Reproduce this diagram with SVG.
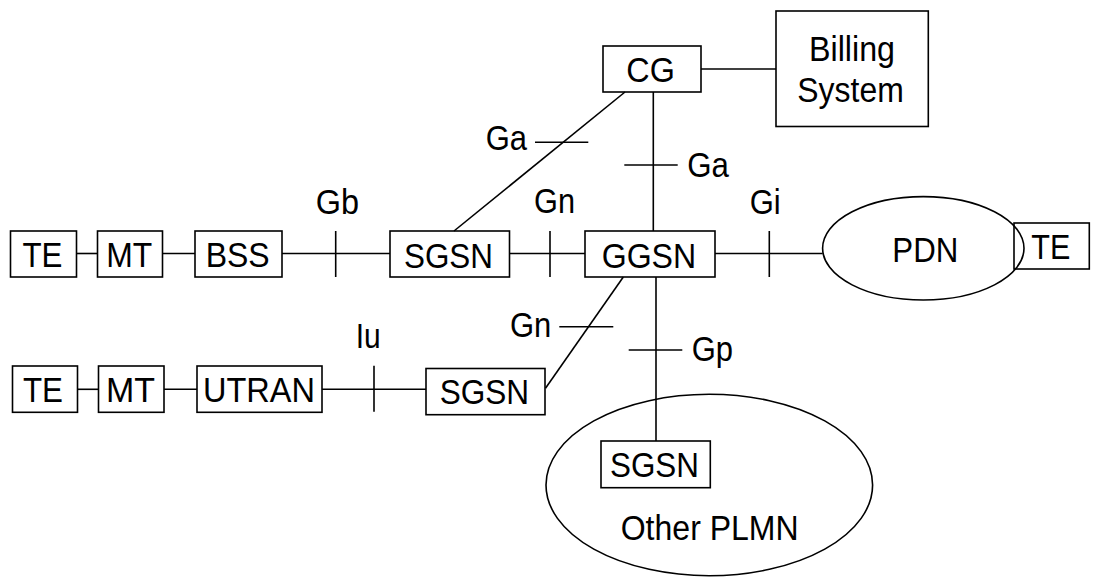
<svg xmlns="http://www.w3.org/2000/svg" width="1093" height="579" viewBox="0 0 1093 579">
  <style>
    .box { fill: none; stroke: #000; stroke-width: 1.6; }
    .net { fill: none; stroke: #000; stroke-width: 1.6; }
    .ln { fill: none; stroke: #000; stroke-width: 1.6; }
    text { font-family: "Liberation Sans", Arial, sans-serif; font-size: 35px; fill: #000; }
  </style>
  <rect width="1093" height="579" fill="#fff"/>

  <!-- connectors and interface ticks -->
  <g id="connectors">
    <!-- GPRS access row -->
    <line class="ln" x1="76.3" y1="253.5" x2="97.5" y2="253.5"/>
    <line class="ln" x1="162.5" y1="253.5" x2="195" y2="253.5"/>
    <line class="ln" x1="282" y1="253.5" x2="390" y2="253.5"/>
    <line class="ln" x1="335.7" y1="231" x2="335.7" y2="277"/>
    <line class="ln" x1="509.5" y1="253.5" x2="585" y2="253.5"/>
    <line class="ln" x1="550" y1="231" x2="550" y2="277"/>
    <line class="ln" x1="715" y1="253.5" x2="822.7" y2="253.5"/>
    <line class="ln" x1="769.3" y1="231" x2="769.3" y2="277"/>
    <!-- charging -->
    <line class="ln" x1="701" y1="69" x2="776" y2="69"/>
    <line class="ln" x1="653.3" y1="92" x2="653.3" y2="231"/>
    <line class="ln" x1="624.3" y1="165" x2="677.7" y2="165"/>
    <line class="ln" x1="625" y1="92" x2="454" y2="231"/>
    <line class="ln" x1="535" y1="142.3" x2="588.3" y2="142.3"/>
    <!-- GGSN to lower SGSNs -->
    <line class="ln" x1="623.3" y1="277" x2="545.5" y2="388.3"/>
    <line class="ln" x1="559.3" y1="326.7" x2="613.3" y2="326.7"/>
    <line class="ln" x1="656" y1="277" x2="656" y2="441"/>
    <line class="ln" x1="628.7" y1="350" x2="682.3" y2="350"/>
    <!-- UMTS access row -->
    <line class="ln" x1="77.5" y1="389.3" x2="98.5" y2="389.3"/>
    <line class="ln" x1="164" y1="389.3" x2="197" y2="389.3"/>
    <line class="ln" x1="322" y1="389.3" x2="426" y2="389.3"/>
    <line class="ln" x1="374" y1="365.7" x2="374" y2="411.7"/>
  </g>

  <!-- interface labels -->
  <g id="labels">
    <text x="315.7" y="214.3" textLength="43.3" lengthAdjust="spacingAndGlyphs">Gb</text>
    <text x="534" y="213.3" textLength="41" lengthAdjust="spacingAndGlyphs">Gn</text>
    <text x="749.7" y="213.5" textLength="31" lengthAdjust="spacingAndGlyphs">Gi</text>
    <text x="485.7" y="150.3" textLength="41.3" lengthAdjust="spacingAndGlyphs">Ga</text>
    <text x="687.3" y="176.7" textLength="41.7" lengthAdjust="spacingAndGlyphs">Ga</text>
    <text x="510" y="337.3" textLength="41.3" lengthAdjust="spacingAndGlyphs">Gn</text>
    <text x="691.7" y="361" textLength="41.3" lengthAdjust="spacingAndGlyphs">Gp</text>
    <text x="355.7" y="348.3" textLength="25" lengthAdjust="spacingAndGlyphs">Iu</text>
  </g>

  <g id="te1">
    <rect class="box" x="10.5" y="231" width="66" height="46"/>
    <text x="22.5" y="267" textLength="40" lengthAdjust="spacingAndGlyphs">TE</text>
  </g>
  <g id="mt1">
    <rect class="box" x="97.5" y="231" width="65" height="46"/>
    <text x="106.3" y="267" textLength="46" lengthAdjust="spacingAndGlyphs">MT</text>
  </g>
  <g id="bss">
    <rect class="box" x="195" y="231" width="87" height="46"/>
    <text x="205.7" y="267" textLength="64" lengthAdjust="spacingAndGlyphs">BSS</text>
  </g>
  <g id="sgsn1">
    <rect class="box" x="390" y="231" width="119.5" height="46"/>
    <text x="404" y="268" textLength="89" lengthAdjust="spacingAndGlyphs">SGSN</text>
  </g>
  <g id="ggsn">
    <rect class="box" x="585" y="231" width="130" height="46"/>
    <text x="601.7" y="268.3" textLength="94.5" lengthAdjust="spacingAndGlyphs">GGSN</text>
  </g>
  <g id="cg">
    <rect class="box" x="603" y="46" width="98" height="46"/>
    <text x="626.3" y="81.7" textLength="48.5" lengthAdjust="spacingAndGlyphs">CG</text>
  </g>
  <g id="billing">
    <rect class="box" x="776" y="11" width="152.3" height="115.5"/>
    <text x="809" y="61" textLength="86" lengthAdjust="spacingAndGlyphs">Billing</text>
    <text x="797.3" y="101.7" textLength="106.5" lengthAdjust="spacingAndGlyphs">System</text>
  </g>
  <g id="pdn">
    <ellipse class="net" cx="923.3" cy="248.3" rx="100.7" ry="51.7"/>
    <text x="892.3" y="261.7" textLength="66" lengthAdjust="spacingAndGlyphs">PDN</text>
  </g>
  <g id="te-pdn">
    <rect class="box" x="1014" y="223" width="75.3" height="46"/>
    <text x="1031.3" y="259.3" textLength="39" lengthAdjust="spacingAndGlyphs">TE</text>
  </g>

  <g id="te2">
    <rect class="box" x="12.5" y="366" width="65" height="46.3"/>
    <text x="23" y="402.3" textLength="40" lengthAdjust="spacingAndGlyphs">TE</text>
  </g>
  <g id="mt2">
    <rect class="box" x="98.5" y="366" width="65.5" height="46.3"/>
    <text x="106" y="402.3" textLength="49" lengthAdjust="spacingAndGlyphs">MT</text>
  </g>
  <g id="utran">
    <rect class="box" x="197" y="366" width="125" height="46.3"/>
    <text x="203" y="402.3" textLength="112" lengthAdjust="spacingAndGlyphs">UTRAN</text>
  </g>
  <g id="sgsn2">
    <rect class="box" x="426" y="368.5" width="119" height="46.2"/>
    <text x="439.7" y="404" textLength="89.5" lengthAdjust="spacingAndGlyphs">SGSN</text>
  </g>
  <g id="other-plmn">
    <ellipse class="net" cx="709.3" cy="485" rx="163.3" ry="90.7"/>
    <text x="620.7" y="540" textLength="178" lengthAdjust="spacingAndGlyphs">Other PLMN</text>
  </g>
  <g id="sgsn3">
    <rect class="box" x="601" y="441" width="109.3" height="46.7"/>
    <text x="610" y="476.7" textLength="89" lengthAdjust="spacingAndGlyphs">SGSN</text>
  </g>
</svg>
